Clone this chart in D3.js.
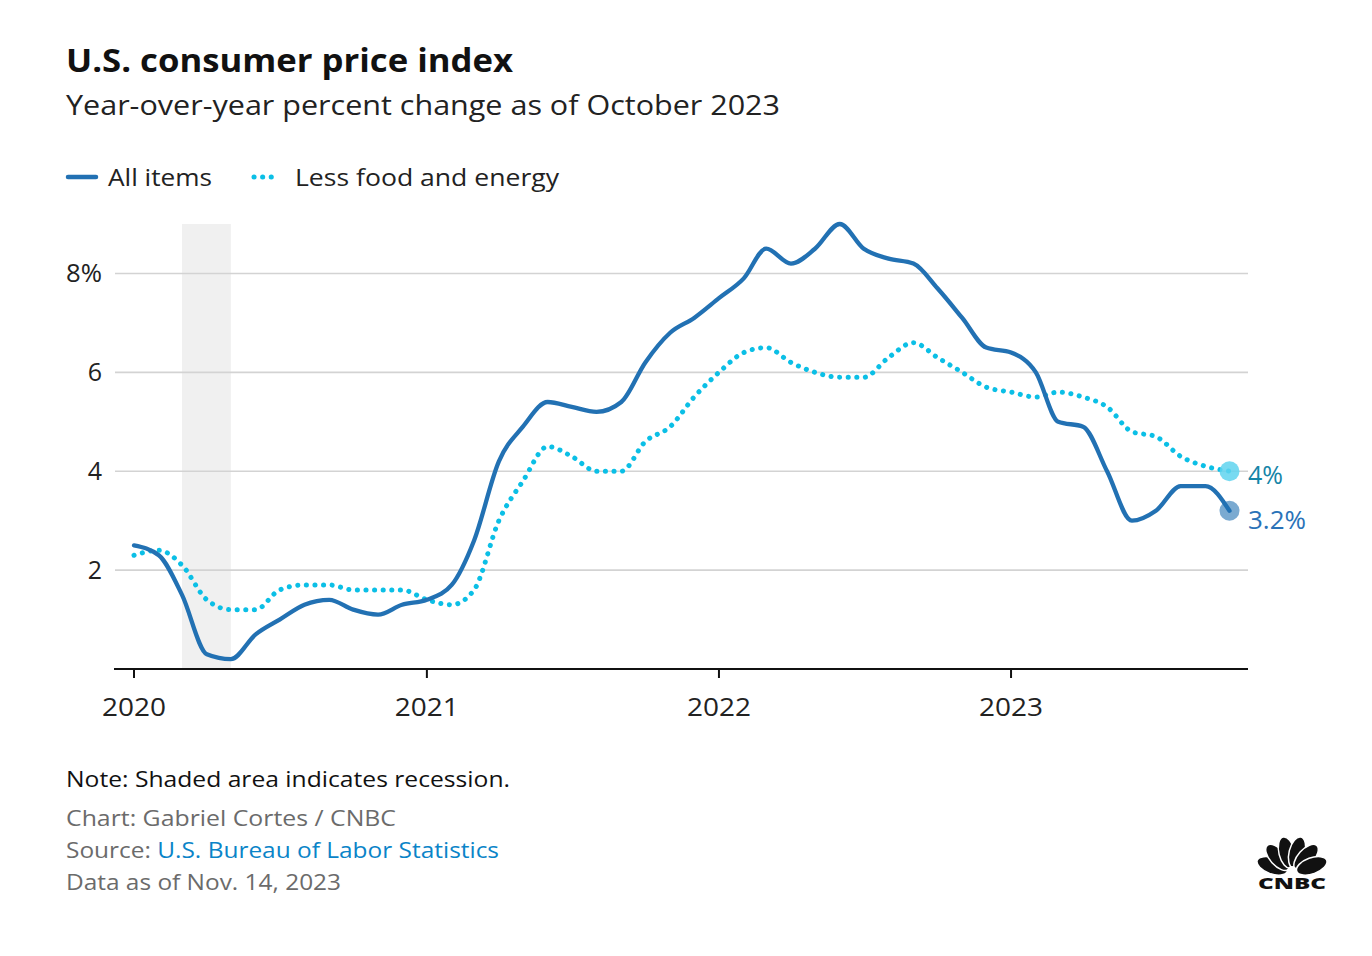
<!DOCTYPE html>
<html><head><meta charset="utf-8">
<script src="https://cdn.jsdelivr.net/npm/d3@7"></script>
<style>
body{margin:0;background:#fff;}
svg text{font-family:"Open Sans","Noto Sans",sans-serif;}
</style></head>
<body><svg id="c" width="1372" height="956"></svg>
<script>
const startMonth = "2020-01";
const allItems = [2.5,2.3,1.5,0.3,0.2,0.7,1.0,1.3,1.4,1.2,1.1,1.3,
  1.4,1.7,2.6,4.2,4.9,5.4,5.3,5.2,5.4,6.2,6.8,7.1,
  7.5,7.9,8.5,8.2,8.5,9.0,8.5,8.3,8.2,7.7,7.1,6.5,
  6.4,6.0,5.0,4.9,4.0,3.0,3.2,3.7,3.7,3.2];
const coreItems = [2.3,2.4,2.1,1.4,1.2,1.2,1.6,1.7,1.7,1.6,1.6,1.6,
  1.4,1.3,1.6,3.0,3.8,4.5,4.3,4.0,4.0,4.6,4.9,5.5,
  6.0,6.4,6.5,6.2,6.0,5.9,5.9,6.3,6.6,6.3,6.0,5.7,
  5.6,5.5,5.6,5.5,5.3,4.8,4.7,4.3,4.1,4.0];
const yTicks = [2,4,6,8];
const xTickYears = [2020,2021,2022,2023];
const recession = ["2020-03","2020-05"];
const seriesNames = ["All items","Less food and energy"];
const endLabels = ["3.2%","4%"];

const parse = d3.timeParse("%Y-%m");
const t0 = parse(startMonth);
const dates = allItems.map((_,i)=>d3.timeMonth.offset(t0,i));

const svg = d3.select("#c");
const x = d3.scaleTime().domain([t0, dates[dates.length-1]]).range([134,1229.5]);
const y = d3.scaleLinear().domain([0,9]).range([669,224]);
const gridX0 = 115, gridX1 = 1248;

function fit(sel, w){ // stretch text horizontally to a target width
  sel.attr("textLength", w).attr("lengthAdjust","spacingAndGlyphs");
  return sel;
}

// title
fit(svg.append("text").attr("x",66).attr("y",72).attr("font-size",33).attr("font-weight",700).attr("fill","#111").text("U.S. consumer price index"),447);
fit(svg.append("text").attr("x",66).attr("y",115).attr("font-size",28).attr("fill","#222").text("Year-over-year percent change as of October 2023"),714);

// legend
const lg = svg.append("g");
lg.append("line").attr("x1",68).attr("x2",96).attr("y1",177).attr("y2",177).attr("stroke","#2271b3").attr("stroke-width",4.5).attr("stroke-linecap","round");
fit(lg.append("text").attr("x",108).attr("y",186).attr("font-size",24).attr("fill","#222").text(seriesNames[0]),104);
lg.append("line").attr("x1",254).attr("x2",274).attr("y1",177).attr("y2",177).attr("stroke","#0bbfe6").attr("stroke-width",5).attr("stroke-linecap","round").attr("stroke-dasharray","0.1 8.5");
fit(lg.append("text").attr("x",295).attr("y",186).attr("font-size",24).attr("fill","#222").text(seriesNames[1]),264);

// recession shade
svg.append("rect").attr("x",x(parse(recession[0]))).attr("width",x(parse(recession[1]))-x(parse(recession[0])))
  .attr("y",y(9)).attr("height",y(0)-y(9)).attr("fill","#f0f0f0");

// grid + y labels
const yg = svg.append("g");
yg.selectAll("line").data(yTicks).join("line").attr("x1",gridX0).attr("x2",gridX1).attr("y1",d=>y(d)).attr("y2",d=>y(d)).attr("stroke","#d3d3d3").attr("stroke-width",1.6);
yg.selectAll("text").data(yTicks).join("text").attr("x",102).attr("text-anchor","end").attr("y",d=>y(d)+9).attr("font-size",25).attr("fill","#222")
  .text(d=>d===8?d+"%":d).each(function(d){ if(d===8) fit(d3.select(this),36); });

// x axis
const xa = svg.append("g").attr("transform",`translate(0,${y(0)})`);
xa.append("line").attr("x1",gridX0-1).attr("x2",gridX1).attr("stroke","#111").attr("stroke-width",2);
const xt = xTickYears.map(yr=>new Date(yr,0,1));
xa.selectAll(".tk").data(xt).join("line").attr("class","tk").attr("x1",d=>x(d)).attr("x2",d=>x(d)).attr("y1",0).attr("y2",9).attr("stroke","#111").attr("stroke-width",2);
fit(xa.selectAll("text").data(xt).join("text").attr("x",d=>x(d)).attr("y",47).attr("text-anchor","middle").attr("font-size",26).attr("fill","#222").text(d=>d3.timeFormat("%Y")(d)),64);

// lines
const line = d3.line().x((d,i)=>x(dates[i])).y(d=>y(d)).curve(d3.curveMonotoneX);
svg.append("path").datum(coreItems).attr("d",line).attr("fill","none").attr("stroke","#0bbfe6").attr("stroke-width",5).attr("stroke-linecap","round").attr("stroke-dasharray","0.1 8.5");
svg.append("path").datum(allItems).attr("d",line).attr("fill","none").attr("stroke","#2271b3").attr("stroke-width",4.3).attr("stroke-linejoin","round").attr("stroke-linecap","round");

// end markers
const li = allItems.length-1;
svg.append("circle").attr("cx",x(dates[li])).attr("cy",y(coreItems[li])).attr("r",10).attr("fill","#5fd3ee").attr("opacity",0.85);
svg.append("circle").attr("cx",x(dates[li])).attr("cy",y(allItems[li])).attr("r",10).attr("fill","#2271b3").attr("opacity",0.6);
fit(svg.append("text").attr("x",1248).attr("y",y(coreItems[li])+13).attr("font-size",25).attr("fill","#1585a8").text(endLabels[1]),35);
fit(svg.append("text").attr("x",1248).attr("y",y(allItems[li])+18).attr("font-size",25).attr("fill","#2a72b8").text(endLabels[0]),58);

// footer
fit(svg.append("text").attr("x",66).attr("y",787).attr("font-size",22).attr("fill","#111").text("Note: Shaded area indicates recession."),444);
fit(svg.append("text").attr("x",66).attr("y",826).attr("font-size",22).attr("fill","#6b6b6b").text("Chart: Gabriel Cortes / CNBC"),330);
const src = svg.append("text").attr("x",66).attr("y",858).attr("font-size",22).attr("fill","#6b6b6b");
src.append("tspan").text("Source: ");
src.append("tspan").attr("fill","#0a84c8").text("U.S. Bureau of Labor Statistics");
fit(src,433);
fit(svg.append("text").attr("x",66).attr("y",890).attr("font-size",22).attr("fill","#6b6b6b").text("Data as of Nov. 14, 2023"),275);

// CNBC logo
const logo = svg.append("g").attr("transform","translate(1292,873)");
const angles = [-70,-42,-14,14,42,70];
angles.forEach(a=>{
  logo.append("ellipse").attr("cx",0).attr("cy",-21).attr("rx",8).attr("ry",16).attr("fill","#111").attr("stroke","#fff").attr("stroke-width",1.5)
    .attr("transform",`rotate(${a})`);
});
logo.append("circle").attr("cx",0).attr("cy",-2).attr("r",5).attr("fill","#fff");
fit(logo.append("text").attr("x",-34).attr("y",16).attr("font-size",16).attr("font-weight",900).attr("font-family","'DejaVu Sans',sans-serif").attr("fill","#111").text("CNBC"),68);
</script></body></html>
